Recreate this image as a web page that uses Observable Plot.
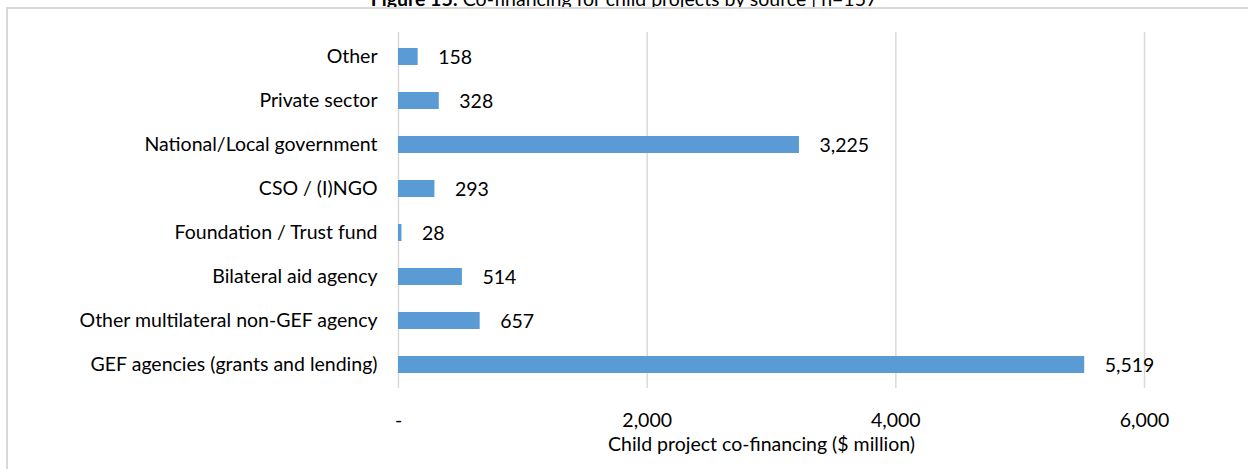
<!DOCTYPE html>
<html>
<head>
<meta charset="utf-8">
<script src="https://cdn.jsdelivr.net/npm/d3@7"></script>
<script src="https://cdn.jsdelivr.net/npm/@observablehq/plot@0.6"></script>
<style>
  html, body { margin: 0; padding: 0; background: #fff; overflow: hidden; }
  body { width: 1248px; height: 469px; position: relative; font-family: Lato, "Open Sans", sans-serif; }
  #title { position: absolute; top: -13px; left: 0; width: 1248px; text-align: center; font-size: 19.5px; color: #000; white-space: nowrap; }
  #box { position: absolute; left: 6px; top: 7px; width: 1300px; height: 500px; border-left: 2px solid #d9d9d9; border-top: 2px solid #d9d9d9; }
  #chart { position: absolute; left: 0; top: 0; }
</style>
</head>
<body>
<div id="title"><b>Figure 15:</b> Co-financing for child projects by source | n=157</div>
<div id="box"></div>
<div id="chart"></div>
<script>
const categories = [
  "Other",
  "Private sector",
  "National/Local government",
  "CSO / (I)NGO",
  "Foundation / Trust fund",
  "Bilateral aid agency",
  "Other multilateral non-GEF agency",
  "GEF agencies (grants and lending)"
];
const values = [158, 328, 3225, 293, 28, 514, 657, 5519];
const xTicks = [0, 2000, 4000, 6000];
const xLabel = "Child project co-financing ($ million)";

const data = categories.map((c, i) => ({category: c, value: values[i]}));
const fmt = d3.format(",");

const chart = Plot.plot({
  width: 1248,
  height: 469,
  marginLeft: 398,
  marginRight: 104,
  marginTop: 32,
  marginBottom: 81,
  style: {fontFamily: "Lato, 'Open Sans', sans-serif", fontSize: "19.5px", color: "#000", background: "transparent"},
  x: {domain: [0, 6000], ticks: xTicks, tickFormat: d => d === 0 ? "-" : fmt(d)},
  y: {domain: categories, paddingInner: 0.62, paddingOuter: 0.27},
  marks: [
    Plot.gridX(xTicks, {stroke: "#d9d9d9", strokeOpacity: 1, strokeWidth: 1.5}),
    Plot.barX(data, {x: "value", y: "category", fill: "#5b9bd5"}),
    Plot.text(data, {x: "value", y: "category", text: d => fmt(d.value), textAnchor: "start", dx: 20, dy: 1, fill: "#000"}),
    Plot.axisX({ticks: xTicks, tickSize: 0, tickPadding: 25, tickFormat: d => d === 0 ? "-" : fmt(d), label: null}),
    Plot.text([xLabel], {frameAnchor: "bottom", dy: 62, dx: -10, fill: "#000"}),
    Plot.axisY({tickSize: 0, tickPadding: 21, label: null})
  ]
});
document.getElementById("chart").appendChild(chart);
</script>
</body>
</html>
